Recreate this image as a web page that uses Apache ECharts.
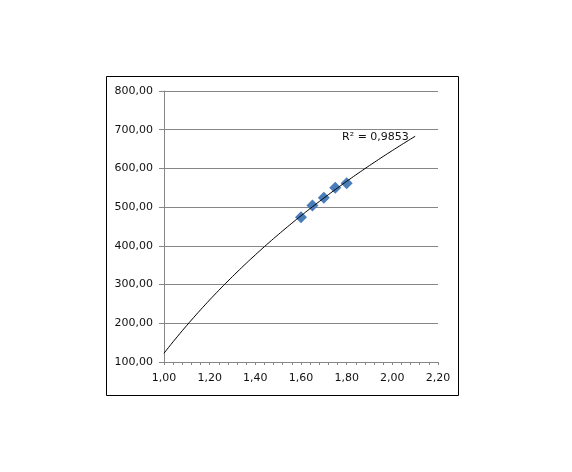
<!DOCTYPE html>
<html>
<head>
<meta charset="utf-8">
<script src="https://cdn.jsdelivr.net/npm/echarts@6/dist/echarts.min.js"></script>
<style>html,body{margin:0;padding:0;background:#fff}#c{width:572px;height:472px}</style>
</head>
<body>
<div id="c"></div>
<script>
// Data
var xValues = [1.60, 1.65, 1.70, 1.75, 1.80];
var yValues = [474, 504, 524, 550, 562];
var xTicks = [1.00, 1.20, 1.40, 1.60, 1.80, 2.00, 2.20];
var yTicks = [100, 200, 300, 400, 500, 600, 700, 800];
var trendRange = [1.00, 2.10];
var r2Label = 'R\u00B2 = 0,9853';
var r2Anchor = [1.78, 680];

// Logarithmic least-squares fit (like a spreadsheet trendline)
var n = xValues.length, sx = 0, sy = 0;
for (var i = 0; i < n; i++) { sx += Math.log(xValues[i]); sy += yValues[i]; }
var mx = sx / n, my = sy / n, sxy = 0, sxx = 0;
for (var i = 0; i < n; i++) {
  var dx = Math.log(xValues[i]) - mx;
  sxy += dx * (yValues[i] - my); sxx += dx * dx;
}
var b = sxy / sxx, a = my - b * mx;
var trend = [];
for (var k = 0; k <= 110; k++) {
  var xv = trendRange[0] + (trendRange[1] - trendRange[0]) * k / 110;
  trend.push([xv, a + b * Math.log(xv)]);
}

var fmt = function (v) { return v.toFixed(2).replace('.', ','); };
var font = 'DejaVu Sans';
var chart = echarts.init(document.getElementById('c'), null, {renderer: 'canvas'});
chart.setOption({
  backgroundColor: '#ffffff',
  animation: false,
  grid: {left: 164, right: 134, top: 91, bottom: 110, containLabel: false},
  xAxis: {
    type: 'value', min: xTicks[0], max: xTicks[xTicks.length - 1], interval: 0.2,
    axisLine: {show: true, lineStyle: {color: '#868686', width: 1}},
    axisTick: {show: true, inside: false, length: 3, lineStyle: {color: '#868686'}},
    minorTick: {show: true, splitNumber: 5, length: 3, lineStyle: {color: '#868686'}},
    splitLine: {show: false},
    axisLabel: {formatter: fmt, color: '#111', fontFamily: font, fontSize: 11, margin: 11}
  },
  yAxis: {
    type: 'value', min: yTicks[0], max: yTicks[yTicks.length - 1], interval: 100,
    axisLine: {show: true, lineStyle: {color: '#868686', width: 1}},
    axisTick: {show: true, inside: false, length: 5, lineStyle: {color: '#868686'}},
    splitLine: {show: true, lineStyle: {color: '#868686', width: 1}},
    axisLabel: {formatter: fmt, color: '#111', fontFamily: font, fontSize: 11, margin: 11}
  },
  series: [
    {
      type: 'scatter', data: xValues.map(function (x, i) { return [x, yValues[i]]; }),
      symbol: 'diamond', symbolSize: 12,
      itemStyle: {color: '#4A7EBB', opacity: 1}, z: 2
    },
    {
      type: 'line', data: trend, showSymbol: false, symbol: 'none',
      lineStyle: {color: '#000', width: 1}, z: 3, silent: true
    }
  ]
});
var p = chart.convertToPixel({gridIndex: 0}, r2Anchor);
chart.setOption({
  graphic: [
    {type: 'rect', shape: {x: 106.5, y: 76.5, width: 352, height: 319}, style: {fill: 'none', stroke: '#000', lineWidth: 1}, z: 10},
    {type: 'text', x: p[0], y: p[1], style: {text: r2Label, fill: '#111', font: '11px DejaVu Sans', textAlign: 'left', textVerticalAlign: 'middle'}, z: 10}
  ]
});
</script>
</body>
</html>
